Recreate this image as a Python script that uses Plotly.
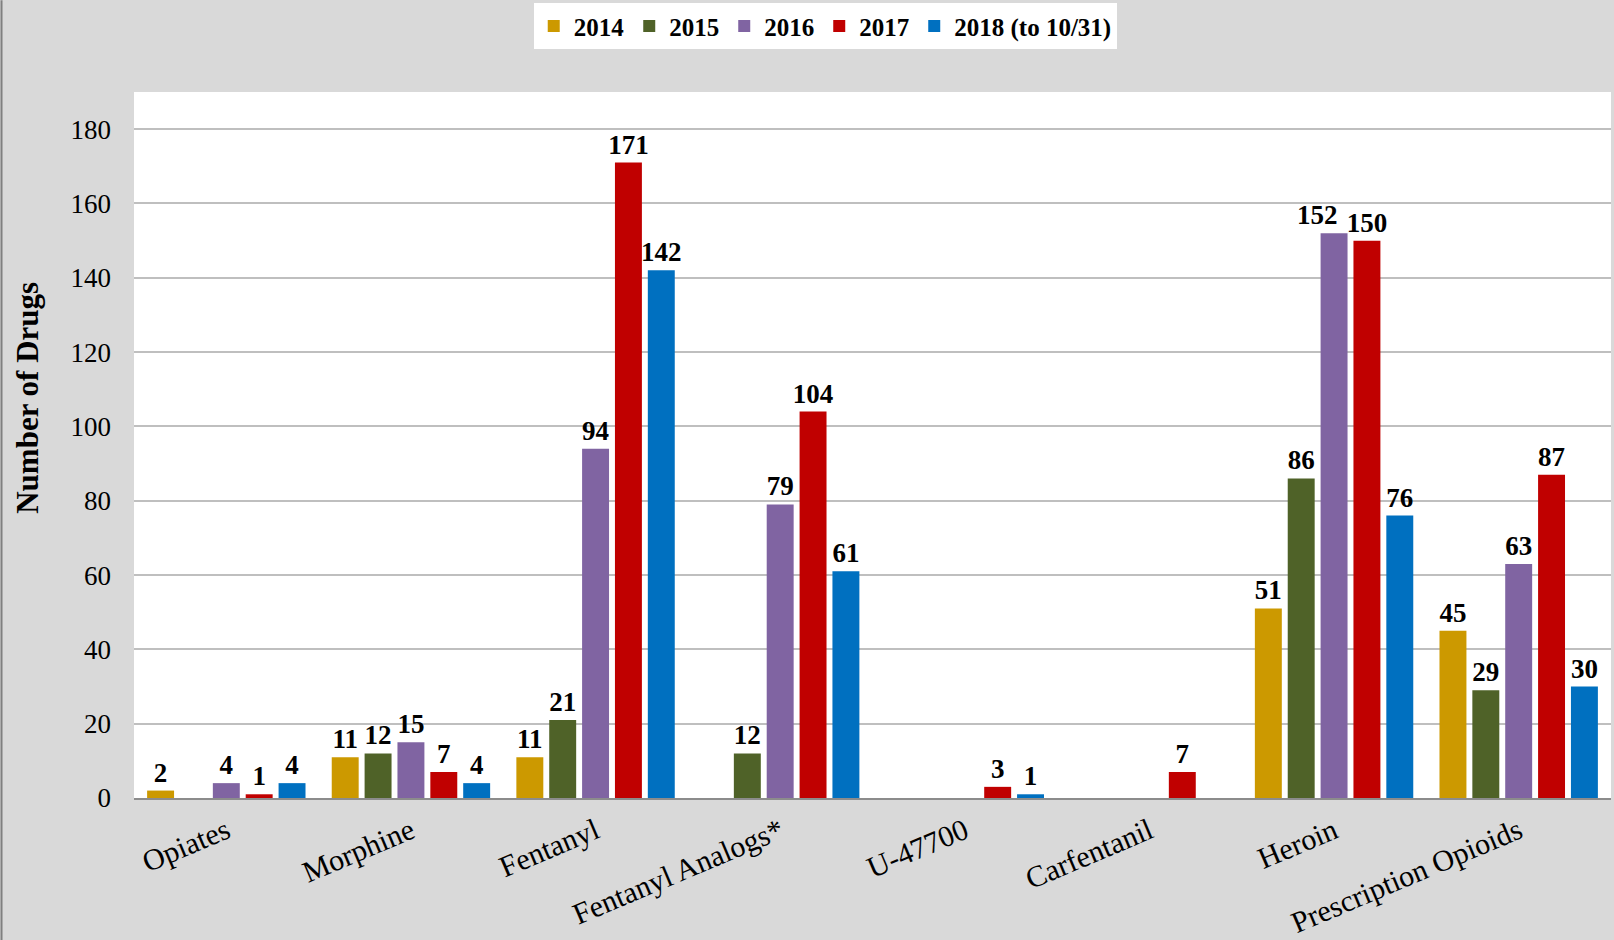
import plotly.graph_objects as go

categories = ["Opiates", "Morphine", "Fentanyl", "Fentanyl Analogs*", "U-47700",
              "Carfentanil", "Heroin", "Prescription Opioids"]

y2014 = [2, 11, 11, None, None, None, 51, 45]
y2015 = [None, 12, 21, 12, None, None, 86, 29]
y2016 = [4, 15, 94, 79, None, None, 152, 63]
y2017 = [1, 7, 171, 104, 3, 7, 150, 87]
y2018 = [4, 4, 142, 61, 1, None, 76, 30]

series = [
    ("2014", y2014, "#CC9900"),
    ("2015", y2015, "#4F6228"),
    ("2016", y2016, "#8064A2"),
    ("2017", y2017, "#C00000"),
    ("2018 (to 10/31)", y2018, "#0070C0"),
]

serif = "Liberation Serif, Times New Roman, serif"
label_font = dict(family=serif, size=27, color="black", weight="bold")

# the Heroin 2016 label sits nudged left in the original, so it is drawn as an annotation
heroin = categories.index("Heroin")

fig = go.Figure()
for name, vals, color in series:
    labels = ["" if v is None else str(v) for v in vals]
    if name == "2016":
        labels[heroin] = ""
    fig.add_trace(go.Bar(
        x=categories, y=vals, name=name,
        marker=dict(color=color, line=dict(width=0)),
        text=labels,
        textposition="outside",
        constraintext="none",
        cliponaxis=False,
        textfont=label_font,
    ))

fig.add_annotation(
    x=categories[heroin], y=y2016[heroin], text=str(y2016[heroin]),
    showarrow=False, yanchor="bottom", xshift=-17, yshift=1,
    font=label_font,
)

fig.add_annotation(
    text="Number of Drugs", textangle=-90,
    xref="paper", yref="paper", x=-0.0717, y=0.567,
    xanchor="center", yanchor="middle", showarrow=False,
    font=dict(family=serif, size=31, color="black", weight="bold"),
)

fig.add_shape(type="line", xref="paper", yref="paper",
              x0=-0.0897, x1=-0.0897, y0=-0.21, y1=1.13,
              line=dict(color="#808080", width=2))

fig.update_layout(
    width=1614, height=940,
    paper_bgcolor="#d9d9d9",
    plot_bgcolor="white",
    barmode="group",
    bargap=0.11,
    bargroupgap=0.18,
    margin=dict(l=134, r=3, t=90, b=142),
    font=dict(family=serif, color="black"),
    legend=dict(
        orientation="h",
        x=0.468, xanchor="center",
        y=1.093, yanchor="middle",
        bgcolor="white",
        font=dict(family=serif, size=25, color="black", weight="bold"),
        itemwidth=30,
        traceorder="normal",
    ),
    showlegend=True,
)

fig.update_yaxes(
    range=[0, 190],
    tickvals=list(range(0, 181, 20)),
    showgrid=True, gridcolor="#bfbfbf", gridwidth=1.5,
    zeroline=False,
    tickfont=dict(family=serif, size=27, color="black"),
    ticks="", ticklabelstandoff=22,
    automargin=False,
)
fig.update_xaxes(
    tickangle=-23,
    showline=True, linecolor="#8c8c8c", linewidth=2,
    tickfont=dict(family=serif, size=30, color="black"),
    ticks="", ticklabelstandoff=2,
    automargin=False,
)

fig.write_html("out.html", config={"displayModeBar": False},
               post_script="document.body.style.margin='0';")
